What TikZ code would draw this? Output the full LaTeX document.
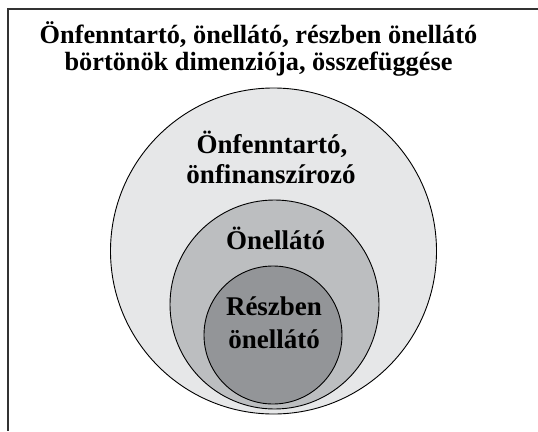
\documentclass[tikz,border=0pt]{standalone}
\usepackage{fontspec}
\setmainfont{Liberation Serif}
\definecolor{ringA}{HTML}{E6E7E8}
\definecolor{ringB}{HTML}{BCBEC0}
\definecolor{ringC}{HTML}{939598}
\definecolor{framec}{HTML}{333333}
\begin{document}
\begin{tikzpicture}[x=1pt,y=-1pt,
  ring/.style={circle,draw=black,line width=0.9pt,inner sep=0pt},
  titletext/.style={font=\fontsize{26.3}{30}\selectfont\bfseries,anchor=base,inner sep=0pt},
  ringtext/.style={font=\fontsize{27}{30}\selectfont\bfseries,anchor=base,inner sep=0pt}]
\useasboundingbox (0,0) rectangle (538,431);
\coordinate (fr1) at (538,9);
\coordinate (fr2) at (8,9);
\coordinate (fr3) at (8,431);
\draw[framec,line width=1.5pt] (fr1) -- (fr2) -- (fr3);
\node[ring,fill=ringA,minimum size=326pt] (outer) at (273.5,251) {};
\node[ring,fill=ringB,minimum size=209pt] (middle) at (274.5,304.5) {};
\node[ring,fill=ringC,minimum size=138pt] (inner) at (273,335) {};
\node[titletext] (t1) at (258.5,43) {Önfenntartó, önellátó, részben önellátó};
\node[titletext] (t2) at (258.5,70) {börtönök dimenziója, összefüggése};
\node[ringtext] (o1) at (272,153) {Önfenntartó,};
\node[ringtext] (o2) at (271,183) {önfinanszírozó};
\node[ringtext] (m1) at (275.5,249) {Önellátó};
\node[ringtext] (i1) at (274,315) {Részben};
\node[ringtext] (i2) at (274,348) {önellátó};
\end{tikzpicture}
\end{document}
